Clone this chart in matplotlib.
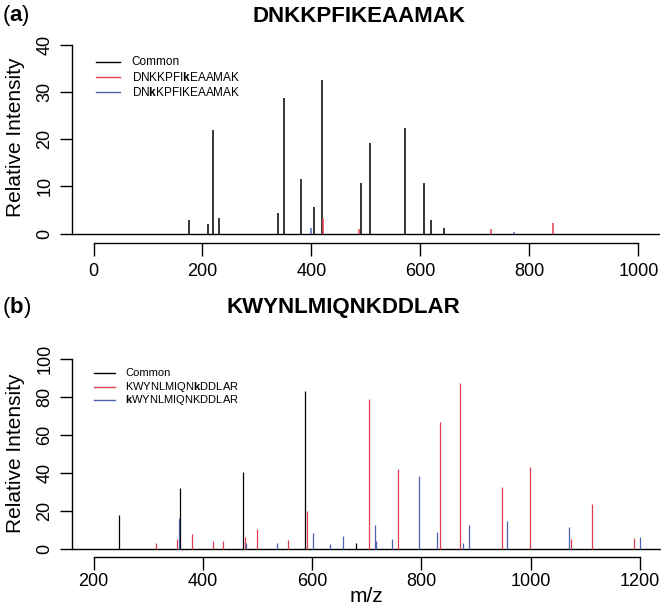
import matplotlib
matplotlib.use('Agg')

import matplotlib.pyplot as plt
from matplotlib.lines import Line2D

plt.rcParams['font.family'] = ['Liberation Sans', 'DejaVu Sans']
plt.rcParams['mathtext.fontset'] = 'custom'
plt.rcParams['mathtext.rm'] = 'Liberation Sans'
plt.rcParams['mathtext.bf'] = 'Liberation Sans:bold'

# Panel (a): DNKKPFIKEAAMAK
a_common_mz = [175, 211, 219, 230, 338, 350, 381, 405, 420, 490, 507, 572, 607, 620, 643]
a_common_int = [2.8, 2.0, 22.0, 3.2, 4.3, 28.8, 11.6, 5.7, 32.5, 10.7, 19.2, 22.3, 10.7, 2.8, 1.2]
a_red_mz = [422, 487, 729, 843]
a_red_int = [3.3, 0.9, 0.9, 2.3]
a_blue_mz = [400, 772]
a_blue_int = [1.1, 0.3]
a_labels = ['Common', r'DNKKPFI$\mathbf{k}$EAAMAK', r'DN$\mathbf{k}$KPFIKEAAMAK']
a_xticks = [0, 200, 400, 600, 800, 1000]
a_yticks = [0, 10, 20, 30, 40]

# Panel (b): KWYNLMIQNKDDLAR
b_common_mz = [246, 358, 473, 587, 680]
b_common_int = [18.0, 31.9, 40.4, 83.1, 3.2]
b_red_mz = [314.5, 351.7, 379.2, 417.6, 436, 476.3, 499.4, 556.2, 589.8, 703.3,
            756.9, 833.3, 871, 946.8, 998.6, 1074.2, 1111.6, 1188.5]
b_red_int = [3.3, 5.4, 7.6, 3.9, 4.0, 6.2, 10.2, 4.6, 20.1, 79,
             42.1, 66.7, 87.3, 32.6, 43.0, 5.4, 23.4, 5.6]
b_blue_mz = [356, 478.6, 535.4, 600.7, 632.4, 656.8, 714.3, 716.5, 745.4, 795.4,
             828.9, 875.4, 887.5, 956.5, 1069.5, 1200]
b_blue_int = [16.2, 2.8, 3.2, 8.5, 2.4, 6.9, 12.5, 4.0, 5.4, 38.3,
              8.8, 2.8, 12.5, 14.4, 11.4, 6.0]
b_labels = ['Common', r'KWYNLMIQN$\mathbf{k}$DDLAR', r'$\mathbf{k}$WYNLMIQNKDDLAR']
b_xticks = [200, 400, 600, 800, 1000, 1200]
b_yticks = [0, 20, 40, 60, 80, 100]

RED = '#E0404E'
BLUE = '#4A64B0'
W, H = 661, 614

fig = plt.figure(figsize=(W / 100, H / 100), dpi=100)


def fx(px):
    return px / W


def fy(py):
    return 1 - py / H


def panel(left, right, top, bottom, xlim, ylim, lw, series, xticks, yticks,
          xlab_py, ylab_px):
    ax = fig.add_axes([fx(left), fy(bottom), fx(right) - fx(left), fy(top) - fy(bottom)])
    ax.set_xlim(xlim)
    ax.set_ylim(ylim)
    ax.axhline(0, color='black', lw=1.0)
    for mz, inten, col in series:
        ax.vlines(mz, 0, inten, colors=col, lw=lw)
    for s in ['top', 'right']:
        ax.spines[s].set_visible(False)
    ax.spines['left'].set_bounds(yticks[0], yticks[-1])
    ax.spines['bottom'].set_bounds(xticks[0], xticks[-1])
    ax.spines['left'].set_linewidth(1.0)
    ax.spines['bottom'].set_linewidth(1.0)
    ax.set_xticks(xticks)
    ax.set_yticks(yticks)
    ax.set_xticklabels([])
    ax.set_yticklabels([])
    ax.tick_params(direction='out', length=9, width=1.0)
    ax.patch.set_visible(False)
    # tick labels placed like R's axis() output
    ya = (bottom - xlab_py) / (bottom - top)
    for t in xticks:
        ax.text(t, ya, str(t), transform=ax.get_xaxis_transform(), fontsize=13,
                ha='center', va='center', clip_on=False)
    xa = (ylab_px - left) / (right - left)
    for t in yticks:
        ax.text(xa, t, str(t), transform=ax.get_yaxis_transform(), fontsize=13,
                rotation=90, ha='center', va='center', clip_on=False)
    return ax


def legend(x0, x1, xt, rows, labels, colors, fs):
    for y, lab, col in zip(rows, labels, colors):
        fig.add_artist(Line2D([fx(x0), fx(x1)], [fy(y), fy(y)], color=col, lw=1.0))
        fig.text(fx(xt), fy(y), lab, fontsize=fs, va='center', ha='left')


# (a)
ax1 = panel(71.7, 660.3, 30, 242.7, (-40, 1040), (-1.95, 43.18), 1.1,
            [(a_common_mz, a_common_int, 'black'), (a_red_mz, a_red_int, RED),
             (a_blue_mz, a_blue_int, BLUE)], a_xticks, a_yticks, 271, 45)
legend(96, 120, 131.7, [61.7, 77.3, 92.3], a_labels, ['black', RED, BLUE], 8.5)
fig.text(fx(359), fy(16), 'DNKKPFIKEAAMAK', fontsize=16, fontweight='bold', ha='center', va='center')
fig.text(fx(2), fy(16), r'($\mathbf{a}$)', fontsize=16, ha='left', va='center')
fig.text(fx(16), fy(137), 'Relative Intensity', fontsize=15, rotation=90, ha='center', va='center')

# (b)
ax2 = panel(71.9, 661.8, 338, 556.7, (160, 1240), (-4.17, 111.2), 0.9,
            [(b_common_mz, b_common_int, 'black'), (b_red_mz, b_red_int, RED),
             (b_blue_mz, b_blue_int, BLUE)], b_xticks, b_yticks, 581, 45)
legend(94, 115, 125, [373.3, 386.7, 400], b_labels, ['black', RED, BLUE], 8)
fig.text(fx(343), fy(307), 'KWYNLMIQNKDDLAR', fontsize=16, fontweight='bold', ha='center', va='center')
fig.text(fx(2), fy(307), r'($\mathbf{b}$)', fontsize=16, ha='left', va='center')
fig.text(fx(16), fy(453), 'Relative Intensity', fontsize=15, rotation=90, ha='center', va='center')
fig.text(fx(366), fy(596), 'm/z', fontsize=15, ha='center', va='center')

fig.savefig('out.png', dpi=100)
plt.close(fig)
